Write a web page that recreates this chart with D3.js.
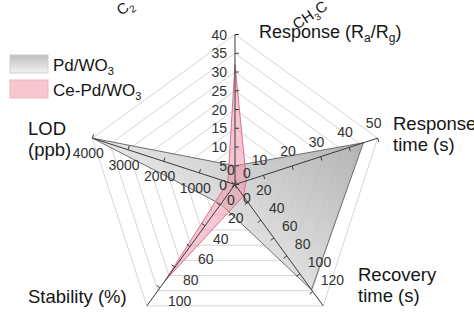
<!DOCTYPE html>
<html><head><meta charset="utf-8">
<script src="https://cdn.jsdelivr.net/npm/d3@7"></script>
<style>html,body{margin:0;padding:0;background:#fff;}svg{display:block;font-family:"Liberation Sans",Arial,sans-serif;}</style>
</head><body>
<svg id="chart" width="474" height="328"></svg>
<script>
// ---- data ----
const axisNames = ["Response (Ra/Rg)", "Response time (s)", "Recovery time (s)", "Stability (%)", "LOD (ppb)"];
const axisMax = [40, 50, 136, 117.5, 4000];
const ticksResponse = [0, 5, 10, 15, 20, 25, 30, 35, 40];
const ticksRespTime = [0, 10, 20, 30, 40, 50];
const ticksRecovery = [0, 20, 40, 60, 80, 100, 120];
const ticksStability = [0, 20, 40, 60, 80, 100];
const ticksLOD = [0, 1000, 2000, 3000, 4000];
const seriesNames = ["Pd/WO3", "Ce-Pd/WO3"];
const pdWO3 = [5, 45, 118, 19, 4000];
const cePdWO3 = [32, 4, 13, 93, 200];

const tickSets = [ticksResponse, ticksRespTime, ticksRecovery, ticksStability, ticksLOD];
const svg = d3.select("#chart");
const cx = 235, cy = 184.5, R = 150;
const n = axisNames.length;
const ang = i => (90 - 72 * i) * Math.PI / 180;
const dir = i => [Math.cos(ang(i)), -Math.sin(ang(i))];
const scales = axisMax.map(m => d3.scaleLinear().domain([0, m]).range([0, R]));
const pt = (i, v) => { const d = scales[i](v), [ux, uy] = dir(i); return [cx + ux * d, cy + uy * d]; };

const defs = svg.append("defs");
const g1 = defs.append("linearGradient").attr("id", "gGray").attr("gradientUnits", "userSpaceOnUse")
  .attr("x1", 360).attr("y1", 140).attr("x2", 230).attr("y2", 300);
g1.append("stop").attr("offset", 0).attr("stop-color", "#a6a6a6");
g1.append("stop").attr("offset", 1).attr("stop-color", "#efefef");
const g2 = defs.append("linearGradient").attr("id", "gLeg").attr("x1", 0).attr("y1", 0).attr("x2", 0).attr("y2", 1);
g2.append("stop").attr("offset", 0).attr("stop-color", "#bdbdbd");
g2.append("stop").attr("offset", 1).attr("stop-color", "#f3f3f3");

// grid rings
const ring = d3.range(1, 9).map(k => k / 8);
svg.append("g").selectAll("polygon").data(ring).join("polygon")
  .attr("points", f => d3.range(n).map(i => { const [ux, uy] = dir(i); return [cx + ux * R * f, cy + uy * R * f].join(","); }).join(" "))
  .attr("fill", "none").attr("stroke", "#d6d6d6").attr("stroke-width", 1);

// series polygons
const line = d3.line().curve(d3.curveLinearClosed);
svg.append("path").attr("d", line(pdWO3.map((v, i) => pt(i, v))))
  .attr("fill", "url(#gGray)").attr("fill-opacity", 0.85).attr("stroke", "#6e6e6e").attr("stroke-width", 1);
svg.append("path").attr("d", line(cePdWO3.map((v, i) => pt(i, v))))
  .attr("fill", "#ee8fa6").attr("fill-opacity", 0.5).attr("stroke", "#d9708c").attr("stroke-width", 1);

// axes
const labOff = [
  {dx: -8, dy: 0, anchor: "end"},
  {dx: -4, dy: -15, anchor: "middle"},
  {dx: 8, dy: -12, anchor: "start"},
  {dx: 8, dy: 13, anchor: "start"},
  {dx: -4, dy: 15, anchor: "middle"}
];
const axG = svg.append("g");
for (let i = 0; i < n; i++) {
  const [ux, uy] = dir(i);
  const end = [cx + ux * R, cy + uy * R];
  axG.append("line").attr("x1", cx).attr("y1", cy).attr("x2", end[0]).attr("y2", end[1])
    .attr("stroke", "#3a3a3a").attr("stroke-width", 1);
  const px = -uy, py = ux; // perpendicular
  axG.selectAll(null).data(tickSets[i]).join("line")
    .attr("x1", v => pt(i, v)[0]).attr("y1", v => pt(i, v)[1])
    .attr("x2", v => pt(i, v)[0] + px * 4).attr("y2", v => pt(i, v)[1] + py * 4)
    .attr("stroke", "#3a3a3a").attr("stroke-width", 1);
  axG.selectAll(null).data(tickSets[i]).join("text")
    .attr("x", v => pt(i, v)[0] + labOff[i].dx).attr("y", v => pt(i, v)[1] + labOff[i].dy)
    .attr("text-anchor", labOff[i].anchor).attr("dominant-baseline", "central")
    .attr("font-size", 14).attr("fill", "#333").text(v => v);
}

// axis titles
const T = svg.append("g").attr("font-size", 18.5).attr("fill", "#151515");
const t0 = T.append("text").attr("x", 259).attr("y", 38).attr("font-size", 18);
t0.append("tspan").text("Response (R");
t0.append("tspan").attr("font-size", 12).attr("dy", 4).text("a");
t0.append("tspan").attr("dy", -4).text("/R");
t0.append("tspan").attr("font-size", 12).attr("dy", 4).text("g");
t0.append("tspan").attr("dy", -4).text(")");
T.append("text").attr("x", 393).attr("y", 130).text("Response");
T.append("text").attr("x", 393).attr("y", 151).text("time (s)");
T.append("text").attr("x", 358).attr("y", 281).text("Recovery");
T.append("text").attr("x", 358).attr("y", 302).text("time (s)");
T.append("text").attr("x", 28).attr("y", 303).text("Stability (%)");
T.append("text").attr("x", 28).attr("y", 135).text("LOD");
T.append("text").attr("x", 28).attr("y", 156).text("(ppb)");

// partially visible labels from the neighbouring panel
const c1 = T.append("text").attr("font-size", 15).attr("transform", "translate(121,16) rotate(-34)");
c1.append("tspan").text("C");
c1.append("tspan").attr("font-size", 10).attr("dy", 4).text("2");
const c2 = T.append("text").attr("font-size", 15).attr("transform", "translate(297,30) rotate(-34)");
c2.append("tspan").text("CH");
c2.append("tspan").attr("font-size", 10).attr("dy", 4).text("3");
c2.append("tspan").attr("dy", -4).text("C");

// legend
const L = svg.append("g");
const legFill = ["url(#gLeg)", "#f8c6d1"];
const legStroke = ["#d0d0d0", "#f0b3c1"];
seriesNames.forEach((s, k) => {
  L.append("rect").attr("x", 10).attr("y", 55 + k * 25).attr("width", 38).attr("height", 18)
    .attr("fill", legFill[k]).attr("stroke", legStroke[k]);
  const tx = L.append("text").attr("x", 53).attr("y", 71 + k * 25).attr("font-size", 17).attr("fill", "#151515");
  tx.append("tspan").text(s.slice(0, -1));
  tx.append("tspan").attr("font-size", 11).attr("dy", 4).text(s.slice(-1));
});
</script>
</body></html>
